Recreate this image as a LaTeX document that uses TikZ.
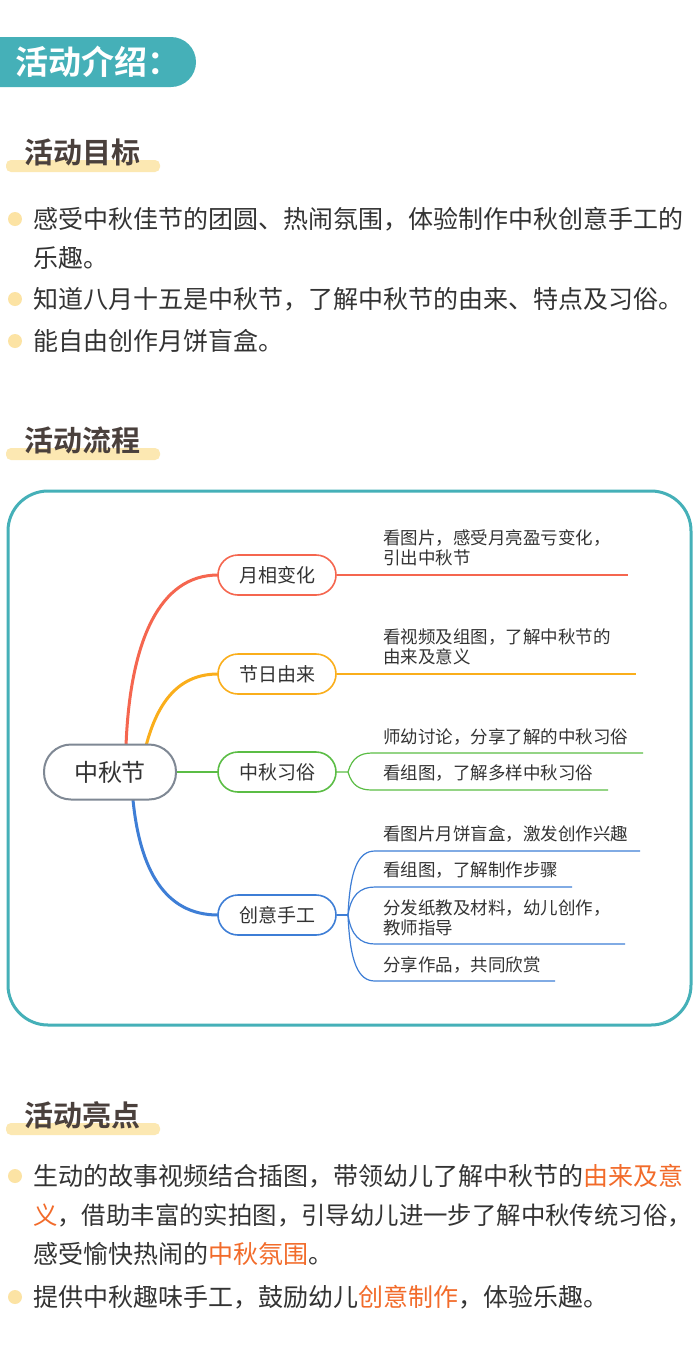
\documentclass[tikz,border=0pt]{standalone}
\usepackage{fontspec}
\setmainfont{Noto Sans CJK SC}
\newfontfamily\cjkb{Noto Sans CJK SC Bold}
\definecolor{teal1}{HTML}{45B0B8}
\definecolor{hl}{HTML}{FCE8B2}
\definecolor{dot}{HTML}{FCE3A4}
\definecolor{head}{HTML}{4A403C}
\definecolor{txt}{HTML}{333333}
\definecolor{org}{HTML}{F26B2A}
\definecolor{cR}{HTML}{F5664F}
\definecolor{cO}{HTML}{FAAE1B}
\definecolor{cG}{HTML}{5BBD45}
\definecolor{cB}{HTML}{3E7ED6}
\definecolor{gr}{HTML}{7F8894}
\tikzset{
 sechead/.style={anchor=west,font=\cjkb\fontsize{29}{32}\selectfont,text=head,inner sep=0},
 btxt/.style={anchor=west,font=\fontsize{25}{28}\selectfont,text=txt,inner sep=0},
 leaf/.style={anchor=west,font=\fontsize{17.5}{20}\selectfont,text=txt,inner sep=0},
 br/.style={draw,line width=1.6pt,rounded corners=20pt,minimum width=118pt,minimum height=40pt,font=\fontsize{19}{22}\selectfont,text=txt,fill=white},
}
\begin{document}
\begin{tikzpicture}[x=1pt,y=-1pt]
\useasboundingbox (0,0) rectangle (700,1345);
\fill[white] (0,0) rectangle (700,1345);
% header
\fill[teal1,rounded corners=25pt] (-40,37) rectangle (196,87);
\node[anchor=west,font=\cjkb\fontsize{33}{36}\selectfont,text=white,inner sep=0] (h) at (15,62) {活动介绍：};
% section 1
\fill[hl,rounded corners=5pt] (6,160) rectangle (160,172);
\node[sechead] (s1) at (24,152) {活动目标};
\foreach \y in {219,299,341} \fill[dot] (15,\y) circle (7);
\node[btxt] (b1) at (33,219) {感受中秋佳节的团圆、热闹氛围，体验制作中秋创意手工的};
\node[btxt] (b1b) at (33,258) {乐趣。};
\node[btxt] (b2) at (33,299) {知道八月十五是中秋节，了解中秋节的由来、特点及习俗。};
\node[btxt] (b3) at (33,341) {能自由创作月饼盲盒。};
% section 2
\fill[hl,rounded corners=5pt] (6,448) rectangle (160,460);
\node[sechead] (s2) at (24,440) {活动流程};
\draw[teal1,line width=3pt,rounded corners=40pt] (8,491) rectangle (691,1025);
% mind map
\draw[cR,line width=3pt] (126,746) .. controls (130,640) and (160,575) .. (218,575);
\draw[cO,line width=3pt] (146,746) .. controls (158,700) and (180,674) .. (218,674);
\draw[cG,line width=2.5pt] (176,772) -- (218,772);
\draw[cB,line width=3pt] (133,800) .. controls (140,870) and (165,915) .. (218,915);
\node[draw=gr,line width=2pt,rounded corners=27pt,minimum width=132pt,minimum height=55pt,font=\fontsize{24}{28}\selectfont,text=txt,fill=white] (root) at (110,772) {中秋节};
\node[br,draw=cR] (n1) at (277,575) {月相变化};
\node[br,draw=cO] (n2) at (277,674) {节日由来};
\node[br,draw=cG] (n3) at (277,772) {中秋习俗};
\node[br,draw=cB] (n4) at (277,915) {创意手工};
% red leaf
\coordinate (r1) at (628,575);
\draw[cR,line width=1.2pt] (n1.east) -- (r1);
\node[leaf] (t1) at (383,538) {看图片，感受月亮盈亏变化，};
\node[leaf] (t1b) at (383,558) {引出中秋节};
% orange
\coordinate (o1) at (636,674);
\draw[cO,line width=1.2pt] (n2.east) -- (o1);
\node[leaf] (t2) at (383,637) {看视频及组图，了解中秋节的};
\node[leaf] (t2b) at (383,657) {由来及意义};
% green
\coordinate (g0) at (348,772);
\coordinate (g1) at (643,753);
\coordinate (g2) at (608,790);
\draw[cG,line width=1.2pt] (n3.east) -- (g0) .. controls (352,758) and (360,753) .. (372,753) -- (g1);
\draw[cG,line width=1.2pt] (g0) .. controls (352,786) and (360,790) .. (372,790) -- (g2);
\node[leaf] (t3) at (383,737) {师幼讨论，分享了解的中秋习俗};
\node[leaf] (t4) at (383,773) {看组图，了解多样中秋习俗};
% blue
\coordinate (q0) at (348,915);
\coordinate (q1) at (640,851);
\coordinate (q2) at (572,887);
\coordinate (q3) at (625,944);
\coordinate (q4) at (555,981);
\draw[cB,line width=1.2pt] (n4.east) -- (q0);
\draw[cB,line width=1.2pt] (q0) .. controls (350,870) and (358,851) .. (375,851) -- (q1);
\draw[cB,line width=1.2pt] (q0) .. controls (351,895) and (360,887) .. (375,887) -- (q2);
\draw[cB,line width=1.2pt] (q0) .. controls (351,935) and (360,944) .. (375,944) -- (q3);
\draw[cB,line width=1.2pt] (q0) .. controls (350,962) and (358,981) .. (375,981) -- (q4);
\node[leaf] (t5) at (383,834) {看图片月饼盲盒，激发创作兴趣};
\node[leaf] (t6) at (383,870) {看组图，了解制作步骤};
\node[leaf] (t7) at (383,908) {分发纸教及材料，幼儿创作，};
\node[leaf] (t7b) at (383,928) {教师指导};
\node[leaf] (t8) at (383,965) {分享作品，共同欣赏};
% section 3
\fill[hl,rounded corners=5pt] (6,1123) rectangle (160,1135);
\node[sechead] (s3) at (24,1115) {活动亮点};
\foreach \y in {1176,1297} \fill[dot] (15,\y) circle (7);
\node[btxt] (c1) at (33,1176) {生动的故事视频结合插图，带领幼儿了解中秋节的\textcolor{org}{由来及意}};
\node[btxt,font=\fontsize{24.4}{28}\selectfont] (c1b) at (33,1215) {\textcolor{org}{义}，借助丰富的实拍图，引导幼儿进一步了解中秋传统习俗，};
\node[btxt] (c1c) at (33,1254) {感受愉快热闹的\textcolor{org}{中秋氛围}。};
\node[btxt] (c2) at (33,1297) {提供中秋趣味手工，鼓励幼儿\textcolor{org}{创意制作}，体验乐趣。};
\end{tikzpicture}
\end{document}
